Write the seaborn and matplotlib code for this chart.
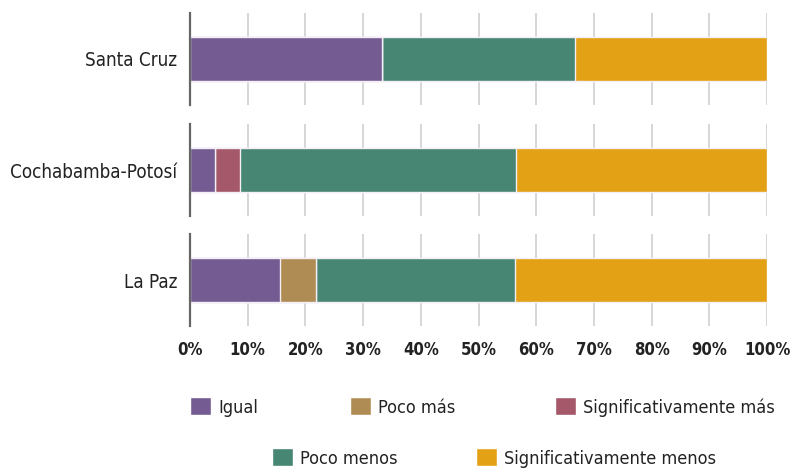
import numpy as np
import pandas as pd
import matplotlib
matplotlib.use("Agg")
import matplotlib.pyplot as plt
import seaborn as sns
from matplotlib.patches import Patch

# ============================
# DATOS
# ============================
regiones = ["Santa Cruz", "Cochabamba-Potosí", "La Paz"]
categorias = ["Igual", "Poco más", "Significativamente más",
              "Poco menos", "Significativamente menos"]
igual = [33.3, 4.35, 15.6]
poco_mas = [0.0, 0.0, 6.3]
sig_mas = [0.0, 4.35, 0.0]
poco_menos = [33.4, 47.8, 34.4]
sig_menos = [33.3, 43.5, 43.7]
colores = ["#745b91", "#b08c55", "#a45869", "#468673", "#e3a115"]
ticks_x = [0, 10, 20, 30, 40, 50, 60, 70, 80, 90, 100]

# ============================
# CONFIGURACIÓN GENERAL
# ============================
sns.set_theme(style="white")
plt.rcParams["font.family"] = ["DejaVu Sans"]
plt.rcParams["font.stretch"] = "condensed"
plt.rcParams["figure.facecolor"] = "white"

df = pd.DataFrame({
    "Region": regiones,
    categorias[0]: igual,
    categorias[1]: poco_mas,
    categorias[2]: sig_mas,
    categorias[3]: poco_menos,
    categorias[4]: sig_menos,
})
acum = df[categorias].cumsum(axis=1)

fig = plt.figure(figsize=(7.92, 4.70), dpi=100)
W, H = 792, 470
izq, ancho = 190 / W, 577 / W
alto = 92 / H
tops = [13, 124, 234]

for i, region in enumerate(regiones):
    ax = fig.add_axes([izq, 1 - (tops[i] + 92) / H, ancho, alto])
    # barras apiladas: de la acumulada mayor a la menor
    for j in range(len(categorias) - 1, -1, -1):
        sns.barplot(x=[acum.loc[i, categorias[j]]], y=[region], orient="h",
                    color=colores[j], width=0.48, edgecolor="#f4eef6",
                    linewidth=1, saturation=1, ax=ax)
    ax.set_xlim(0, 100)
    ax.set_xticks(ticks_x)
    ax.set_axisbelow(True)
    ax.grid(axis="x", color="#d0d0d0", linewidth=1.2)
    ax.grid(axis="y", visible=False)
    for s in ["top", "right", "bottom"]:
        ax.spines[s].set_visible(False)
    ax.spines["left"].set_color("#666666")
    ax.spines["left"].set_linewidth(1.6)
    ax.set_xlabel("")
    ax.set_ylabel("")
    ax.tick_params(axis="both", length=0)
    ax.tick_params(axis="y", pad=9, labelsize=13.5, labelcolor="#222222")
    if i == len(regiones) - 1:
        ax.set_xticklabels([f"{t}%" for t in ticks_x], fontsize=12,
                           fontweight="bold", color="#222222")
        ax.tick_params(axis="x", pad=11)
    else:
        ax.set_xticklabels([])

# ============================
# LEYENDA (dos filas, un elemento por posición)
# ============================
pos_x = [190, 350, 555, 272, 476]
pos_y = [407, 407, 407, 458, 458]
for c, nombre, px, py in zip(colores, categorias, pos_x, pos_y):
    fig.legend([Patch(facecolor=c, edgecolor="white")], [nombre],
               loc="center left", bbox_to_anchor=(px / W, 1 - py / H),
               frameon=False, fontsize=13, handlelength=1.15,
               handleheight=1.15, handletextpad=0.42, borderaxespad=0,
               borderpad=0, labelcolor="#222222")

plt.savefig("out.png", dpi=100)
